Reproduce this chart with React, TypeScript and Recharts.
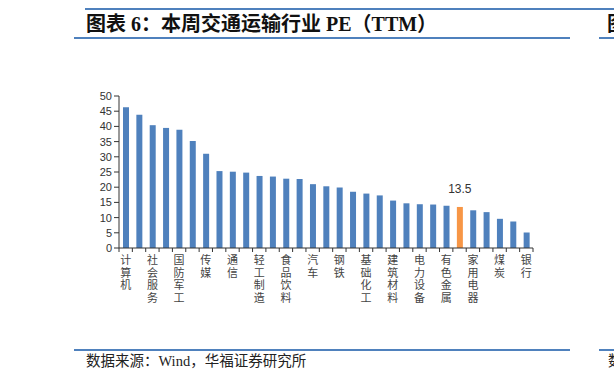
import { BarChart, Bar, XAxis, YAxis, Cell, LabelList } from "recharts";

const industries = [
  "计算机", "综合", "社会服务", "美容护理", "国防军工", "电子", "传媒", "机械设备",
  "通信", "医药生物", "轻工制造", "环保", "食品饮料", "农林牧渔", "汽车", "商贸零售",
  "钢铁", "纺织服饰", "基础化工", "公用事业", "建筑材料", "房地产", "电力设备", "非银金融",
  "有色金属", "交通运输", "家用电器", "石油石化", "煤炭", "建筑装饰", "银行",
];
const peValues = [
  46.3, 43.8, 40.4, 39.5, 38.9, 35.2, 31.0, 25.3,
  25.1, 24.8, 23.7, 23.5, 22.8, 22.7, 21.0, 20.3,
  19.9, 18.5, 17.9, 17.3, 15.6, 14.7, 14.4, 14.3,
  13.9, 13.5, 12.4, 11.8, 9.6, 8.7, 5.1,
];
const yTicks = [0, 5, 10, 15, 20, 25, 30, 35, 40, 45, 50];
const highlight = "交通运输";

const data = industries.map((name, i) => ({ name, pe: peValues[i] }));

const W = 614;
const H = 381;
const M = { top: 96, right: 81, bottom: 53, left: 79 };
const Y_W = 40;
const band = (W - M.left - M.right - Y_W) / data.length;

const BLUE = "#4f81bd";
const ORANGE = "#f79646";
const serif = "'Liberation Serif', 'Noto Sans CJK SC', serif";
const cjk = "'Noto Sans CJK SC', sans-serif";

// one char per line, every other category labelled; tick marks sit between bars
function XTick(props: any) {
  const { x, y, payload, index } = props;
  const chars = String(payload.value).split("");
  const last = index === data.length - 1;
  return (
    <g>
      <line x1={x - band / 2} x2={x - band / 2} y1={y} y2={y + 4} stroke="#333" />
      {last && <line x1={x + band / 2} x2={x + band / 2} y1={y} y2={y + 4} stroke="#333" />}
      {index % 2 === 0 &&
        chars.map((c, k) => (
          <text key={k} x={x} y={y + 16 + k * 12.6} textAnchor="middle" fontSize={11}
            fill="#444" fontFamily={cjk}>
            {c}
          </text>
        ))}
    </g>
  );
}

function PeLabel(props: any) {
  const { x, y, width, index } = props;
  if (industries[index] !== highlight) return null;
  return (
    <text x={x + width / 2} y={y - 14} textAnchor="middle" fontSize={12}
      fill="#333" fontFamily="'Liberation Sans', Arial, sans-serif">
      {peValues[index].toFixed(1)}
    </text>
  );
}

export default function App() {
  return (
    <div style={{ position: "absolute", left: 0, top: 0, width: W, height: H, background: "#fff", overflow: "hidden" }}>
      {/* title block */}
      <div style={{ position: "absolute", left: 85, right: 0, top: 8, height: 2, background: BLUE }} />
      <div style={{ position: "absolute", left: 86, top: 14, fontSize: 20, lineHeight: "20px", fontWeight: "bold", fontFamily: serif, color: "#111", whiteSpace: "nowrap" }}>
        图表 6：本周交通运输行业 PE（TTM）
      </div>
      <div style={{ position: "absolute", left: 607, top: 14, fontSize: 20, lineHeight: "20px", fontWeight: "bold", fontFamily: serif, color: "#111" }}>图</div>
      <div style={{ position: "absolute", left: 74, width: 496, top: 37, height: 2, background: BLUE }} />
      <div style={{ position: "absolute", left: 599, right: 0, top: 37, height: 2, background: BLUE }} />

      <div style={{ position: "absolute", left: 0, top: 0 }}>
        <BarChart width={W} height={H} data={data} margin={M}>
          <YAxis domain={[0, 50]} ticks={yTicks} width={Y_W} interval={0}
            axisLine={{ stroke: "#333" }} tickLine={{ stroke: "#333" }} tickSize={5}
            tick={{ fontSize: 11, fill: "#333", fontFamily: "'Liberation Sans', Arial, sans-serif" }} />
          <XAxis dataKey="name" interval={0} height={80} tickSize={0} tickMargin={0}
            axisLine={{ stroke: "#333" }} tickLine={false} tick={<XTick />} />
          <Bar dataKey="pe" barSize={6} isAnimationActive={false}>
            {data.map((d) => (
              <Cell key={d.name} fill={d.name === highlight ? ORANGE : BLUE} />
            ))}
            <LabelList dataKey="pe" content={<PeLabel />} />
          </Bar>
        </BarChart>
      </div>

      {/* source block */}
      <div style={{ position: "absolute", left: 74, width: 496, top: 349, height: 2, background: BLUE }} />
      <div style={{ position: "absolute", left: 599, right: 0, top: 349, height: 2, background: BLUE }} />
      <div style={{ position: "absolute", left: 86, top: 353, fontSize: 14.5, lineHeight: "16px", fontFamily: serif, color: "#222", whiteSpace: "nowrap" }}>
        数据来源：Wind，华福证券研究所
      </div>
      <div style={{ position: "absolute", left: 608, top: 353, fontSize: 14.5, lineHeight: "16px", fontFamily: serif, color: "#222" }}>数</div>
    </div>
  );
}
